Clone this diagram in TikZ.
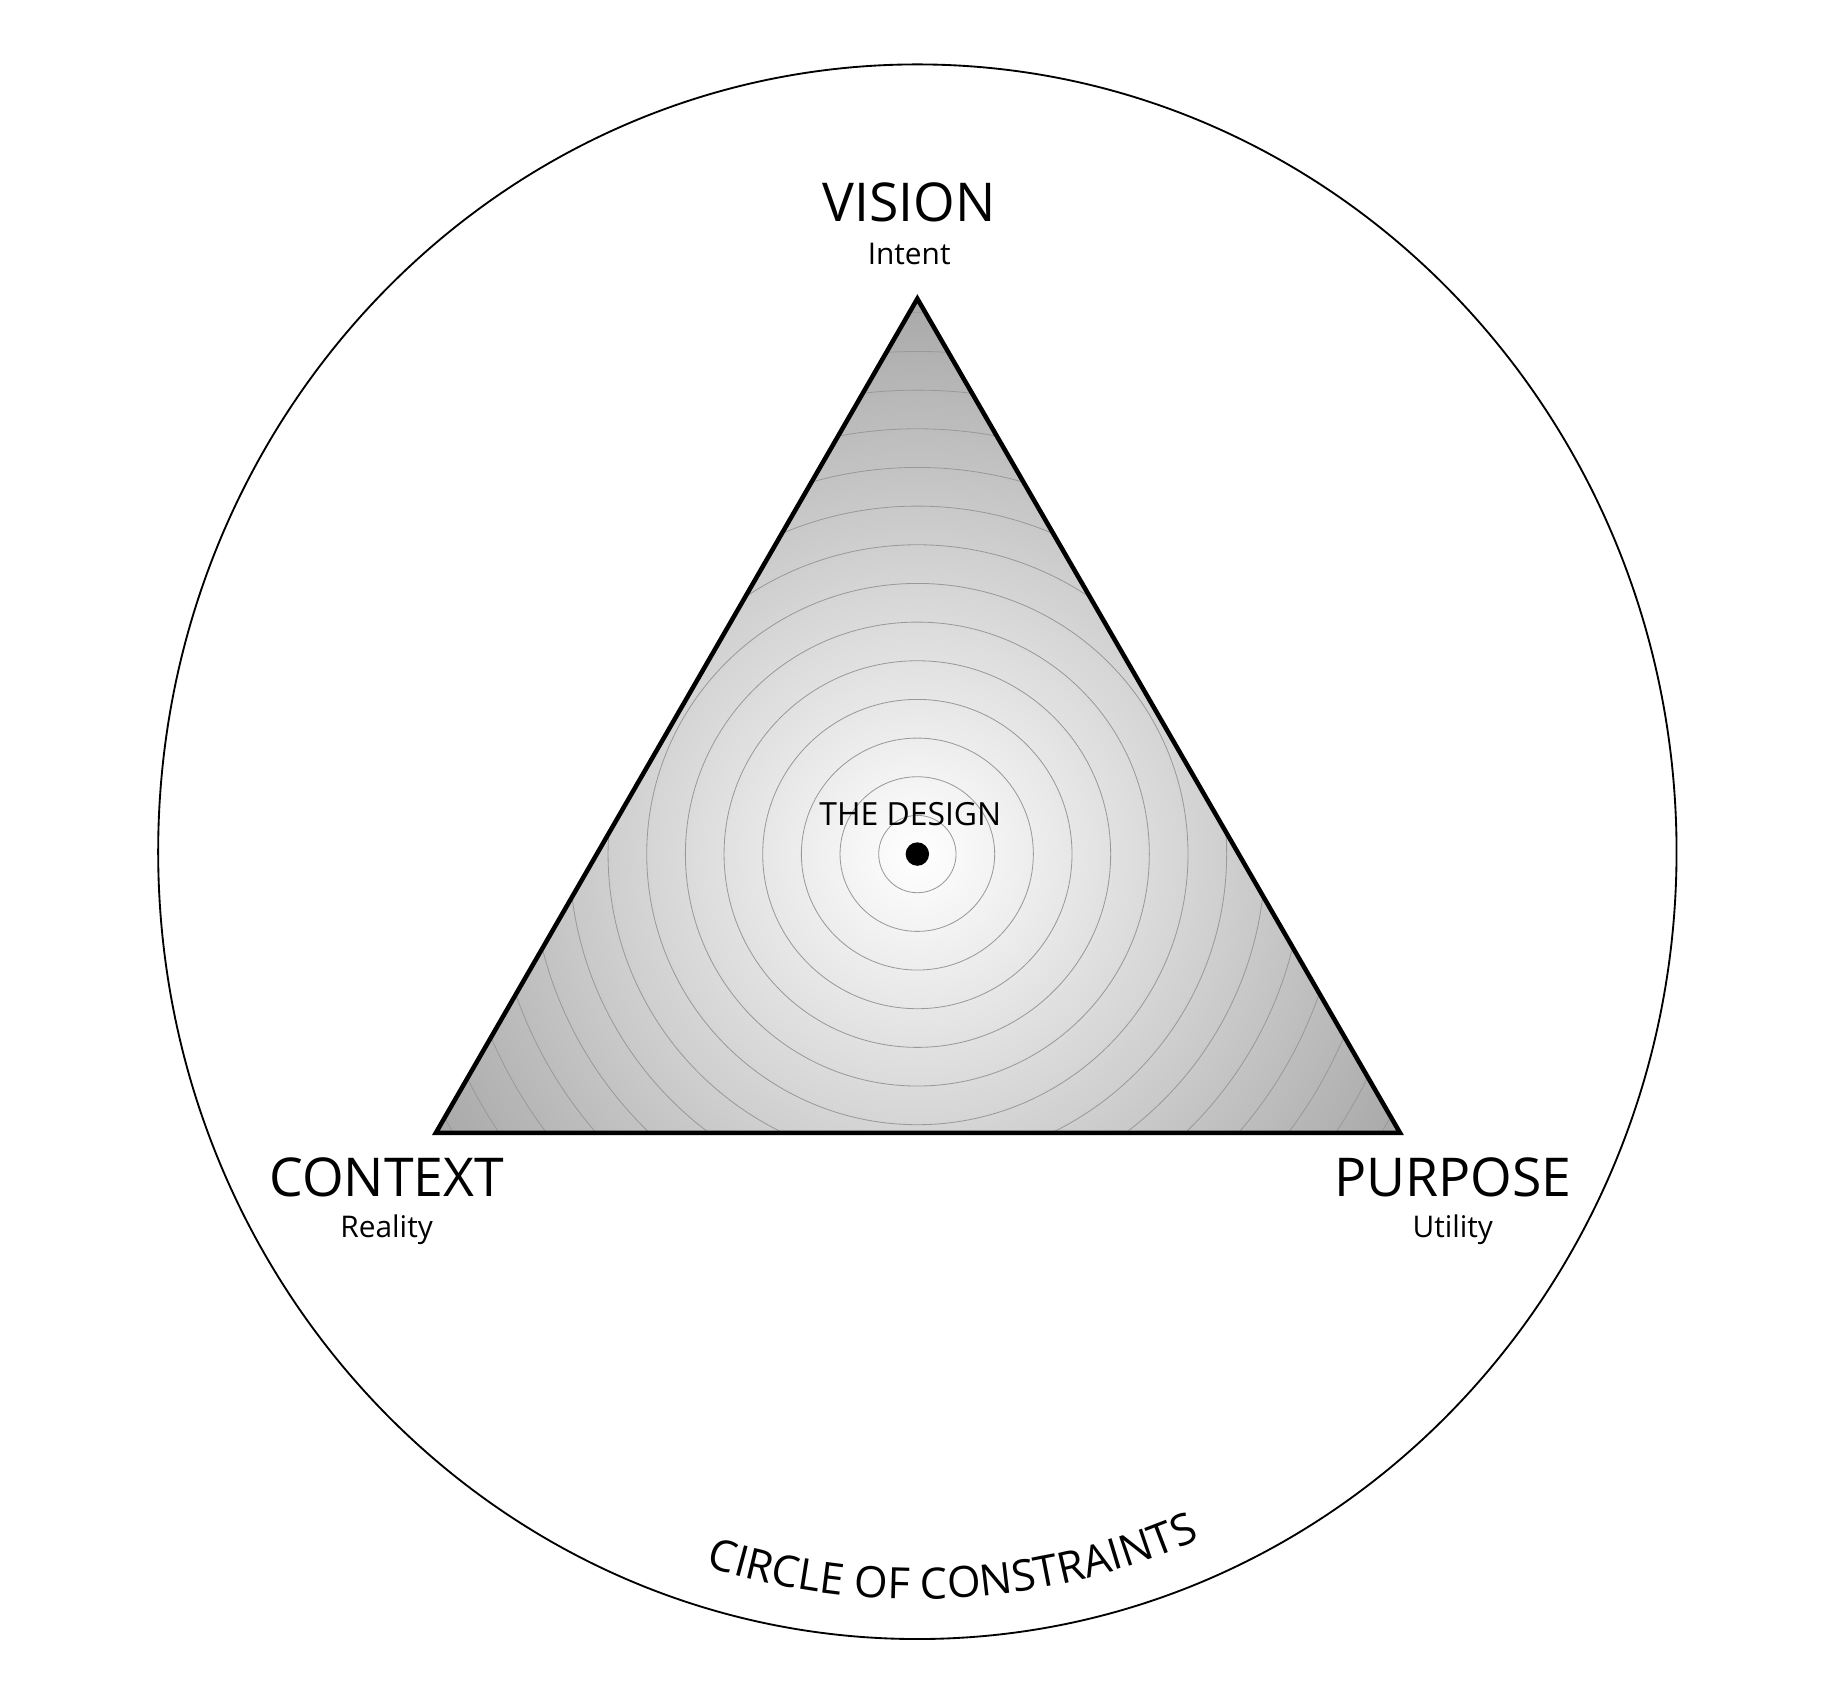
\documentclass[tikz,border=0pt]{standalone}
\usepackage{fontspec}
\setmainfont{Open Sans}
\usetikzlibrary{decorations.text}
\begin{document}
\begin{tikzpicture}[x=0.02cm,y=0.02cm,
  big/.style={font=\fontsize{26}{30}\selectfont},
  small/.style={font=\fontsize{14.5}{18}\selectfont}]
\useasboundingbox (0,0) rectangle (1556,1442);
\coordinate (A) at (783,1187);
\coordinate (B) at (372,475);
\coordinate (C) at (1195,475);
\coordinate (O) at (783,713);
\draw[line width=0.9pt] (783,715) ellipse [x radius=648,y radius=672];
\begin{scope}
\clip (A) -- (B) -- (C) -- cycle;
\shade[inner color=white,outer color=black!40] (O) circle (560);
\foreach \k in {1,...,18} \draw[black!40,line width=0.4pt] (O) circle ({33*\k});
\end{scope}
\draw[line width=2.2pt,line join=miter] (A) -- (B) -- (C) -- cycle;
\fill (O) circle (10);
\node[font=\fontsize{15.5}{18}\selectfont] (design) at (777,747) {THE DESIGN};
\node[big] (vision) at (776,1269) {VISION};
\node[small] (intent) at (776,1225) {Intent};
\node[big] (context) at (330,437) {CONTEXT};
\node[small] (reality) at (330,392) {Reality};
\node[big] (purpose) at (1240,437) {PURPOSE};
\node[small] (utility) at (1240,392) {Utility};
\path[postaction={decorate,decoration={text along path,text align=center,
  text={|\fontsize{21}{24}\selectfont|CIRCLE OF CONSTRAINTS}}}]
  (783,715) ++(243:614 and 638) arc[start angle=243,end angle=303,x radius=614,y radius=638];
\end{tikzpicture}
\end{document}
